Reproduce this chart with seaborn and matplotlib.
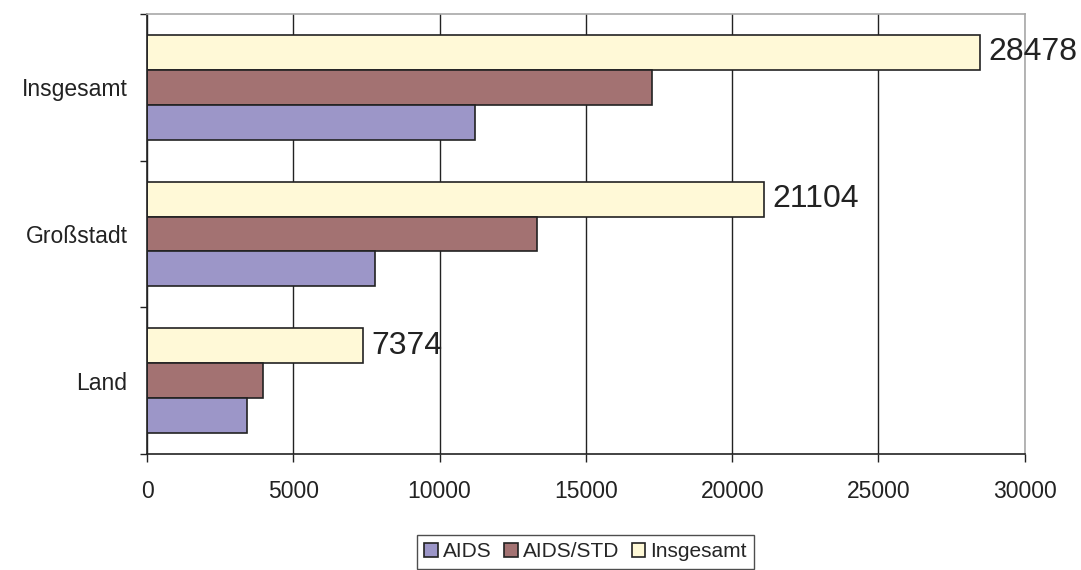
import pandas
import seaborn
from matplotlib import pyplot as plt
from matplotlib import ticker
from matplotlib.patches import Patch

# values
regions = ["Insgesamt", "Großstadt", "Land"]
aids = [11220, 7790, 3410]
aids_std = [17258, 13314, 3964]
insgesamt = [28478, 21104, 7374]

series_names = ["AIDS", "AIDS/STD", "Insgesamt"]
series_colors = {"AIDS": "#9c96c8", "AIDS/STD": "#a37272", "Insgesamt": "#fff9d7"}
x_ticks = [0, 5000, 10000, 15000, 20000, 25000, 30000]

df = pandas.DataFrame(
    {
        "region": regions * 3,
        "series": ["AIDS"] * 3 + ["AIDS/STD"] * 3 + ["Insgesamt"] * 3,
        "value": aids + aids_std + insgesamt,
    }
)

seaborn.set_theme(style="white")
plt.rcParams["font.family"] = ["Liberation Sans", "DejaVu Sans"]

fig = plt.figure(figsize=(10.81, 5.70), dpi=100)
ax = fig.add_axes([0.136, 0.2035, 0.812, 0.772])

# top bar of every group is "Insgesamt", so draw in reverse legend order
seaborn.barplot(
    data=df,
    x="value",
    y="region",
    hue="series",
    hue_order=series_names[::-1],
    order=regions,
    palette=series_colors,
    orient="h",
    width=0.715,
    gap=0,
    edgecolor="#222222",
    linewidth=1.2,
    saturation=1,
    ax=ax,
)

# value labels on the total bars
ax.bar_label(ax.containers[0], fmt="%d", padding=6, fontsize=23, color="#222222")

ax.set_xlim(0, 30000)
ax.set_ylim(2.5, -0.5)
ax.xaxis.set_major_locator(ticker.FixedLocator(x_ticks))
ax.set_xticklabels([str(t) for t in x_ticks], fontsize=16.5, color="#222222")
ax.tick_params(axis="x", direction="out", length=6, width=1, color="#222222", pad=13, bottom=True)

# tick marks between groups, labels at group centres
ax.yaxis.set_major_locator(ticker.FixedLocator([-0.5, 0.5, 1.5, 2.5]))
ax.yaxis.set_major_formatter(ticker.NullFormatter())
ax.yaxis.set_minor_locator(ticker.FixedLocator([0, 1, 2]))
ax.yaxis.set_minor_formatter(ticker.FixedFormatter(regions))
ax.tick_params(axis="y", which="major", direction="out", length=5, width=1, color="#222222", left=True)
ax.tick_params(axis="y", which="minor", length=0, pad=14, labelsize=16.5, labelcolor="#222222", left=True)

ax.set_axisbelow(True)
ax.xaxis.grid(True, color="#222222", linewidth=1)
ax.get_xgridlines()[-1].set_color("#a8a8a8")
ax.set_xlabel("")
ax.set_ylabel("")

for side in ["left", "bottom"]:
    ax.spines[side].set_color("#222222")
    ax.spines[side].set_linewidth(1.2)
for side in ["top", "right"]:
    ax.spines[side].set_color("#a8a8a8")
    ax.spines[side].set_linewidth(1.2)

ax.get_legend().remove()
handles = [
    Patch(facecolor=series_colors[name], edgecolor="#222222", linewidth=1.2)
    for name in series_names
]
leg = fig.legend(
    handles,
    series_names,
    loc="upper center",
    bbox_to_anchor=(0.5416, 0.0614),
    ncol=3,
    fontsize=15,
    frameon=True,
    fancybox=False,
    edgecolor="#222222",
    handlelength=0.65,
    handleheight=0.65,
    handletextpad=0.25,
    columnspacing=0.6,
    borderpad=0.35,
    borderaxespad=0,
)
leg.get_frame().set_linewidth(1)

fig.savefig("out.png", dpi=100)
